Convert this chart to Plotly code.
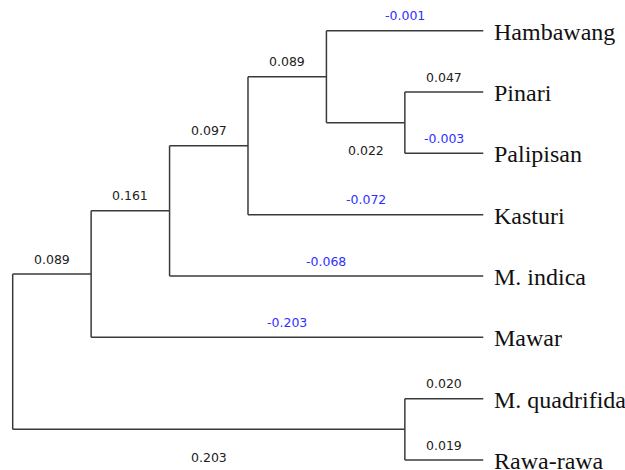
import plotly.graph_objects as go

# ---- data ----
leaves = ["Hambawang", "Pinari", "Palipisan", "Kasturi",
          "M. indica", "Mawar", "M. quadrifida", "Rawa-rawa"]

# internal nodes: name -> (level, [children])
nodes = {
    "root": (0, ["N1", "Nq"]),
    "N1": (1, ["N2", "Mawar"]),
    "N2": (2, ["N3", "M. indica"]),
    "N3": (3, ["N4", "Kasturi"]),
    "N4": (4, ["Hambawang", "N5"]),
    "N5": (5, ["Pinari", "Palipisan"]),
    "Nq": (5, ["M. quadrifida", "Rawa-rawa"]),
}
leaf_level = 6

# branch values (child -> value) and label side
branch_value = {
    "N1": 0.089, "Nq": 0.203,
    "N2": 0.161, "Mawar": -0.203,
    "N3": 0.097, "M. indica": -0.068,
    "N4": 0.089, "Kasturi": -0.072,
    "Hambawang": -0.001, "N5": 0.022,
    "Pinari": 0.047, "Palipisan": -0.003,
    "M. quadrifida": 0.020, "Rawa-rawa": 0.019,
}
label_below = ["Nq", "N5"]

# ---- layout of tree ----
pos = {}
for i, lf in enumerate(leaves):
    pos[lf] = (leaf_level, i)


def place(n):
    if n in pos:
        return pos[n]
    lvl, ch = nodes[n]
    ys = [place(c)[1] for c in ch]
    pos[n] = (lvl, sum(ys) / len(ys))
    return pos[n]


place("root")

line_color = "#3a3a3a"
fig = go.Figure()
xs, ys = [], []
annotations = []
for n, (lvl, ch) in nodes.items():
    px, py = pos[n]
    cys = [pos[c][1] for c in ch]
    xs += [px, px, None]
    ys += [min(cys), max(cys), None]
    for c in ch:
        cx, cy = pos[c]
        xs += [px, cx, None]
        ys += [cy, cy, None]
        v = branch_value[c]
        below = c in label_below
        annotations.append(dict(
            x=(px + cx) / 2, y=cy, xref="x", yref="y",
            text=f"{v:.3f}", showarrow=False,
            yshift=-28 if below else 15,
            font=dict(family="DejaVu Sans", size=12.5,
                      color="#3030ff" if v < 0 else "#222222"),
        ))

fig.add_trace(go.Scatter(x=xs, y=ys, mode="lines",
                         line=dict(color=line_color, width=1.5),
                         hoverinfo="skip", showlegend=False))

for lf in leaves:
    lx, ly = pos[lf]
    annotations.append(dict(
        x=lx, y=ly, xref="x", yref="y", text=lf, showarrow=False,
        xanchor="left", xshift=9, yshift=-1,
        font=dict(family="Liberation Serif", size=24, color="#111111"),
    ))

step_x = 78.43
step_y = 61.33
x0 = -12.7 / step_x
y0 = -30.7 / step_y
fig.update_layout(
    width=625, height=470,
    margin=dict(l=0, r=0, t=0, b=0),
    paper_bgcolor="white", plot_bgcolor="white",
    xaxis=dict(range=[x0, x0 + 625 / step_x], visible=False),
    yaxis=dict(range=[y0 + 470 / step_y, y0], visible=False),
    annotations=annotations,
)
fig.write_html("out.html",
               config={"displayModeBar": False},
               post_script="document.body.style.margin='0';"
                           "document.body.style.overflow='hidden';")
